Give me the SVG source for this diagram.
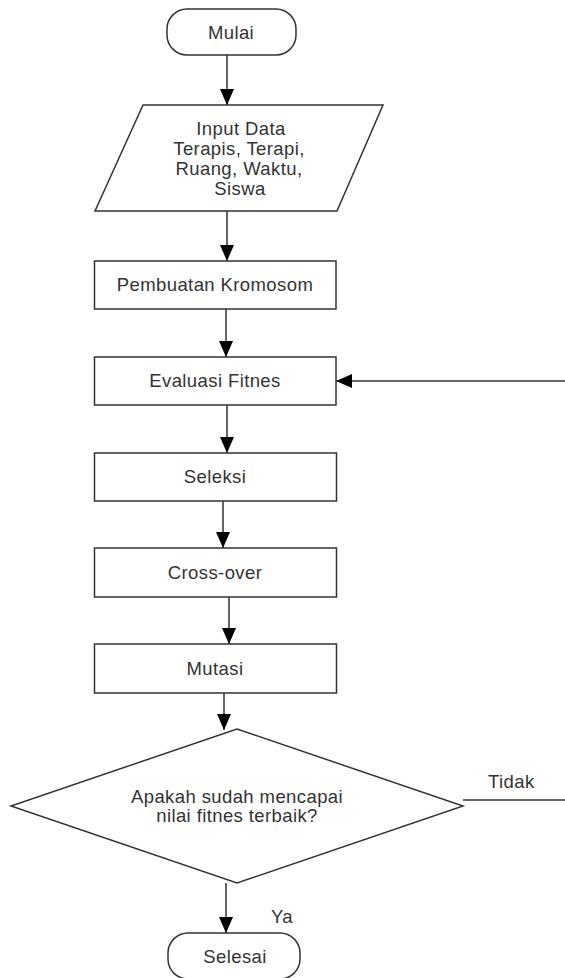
<svg xmlns="http://www.w3.org/2000/svg" width="565" height="978" viewBox="0 0 565 978">
<style>
.s{fill:#fff;stroke:#333;stroke-width:1.5}
.t{font-family:"Liberation Sans",Arial,sans-serif;font-size:18.5px;letter-spacing:0.4px;fill:#333;text-anchor:middle}
.l{font-family:"Liberation Sans",Arial,sans-serif;font-size:18.5px;letter-spacing:0.4px;fill:#333}
.c{fill:none;stroke:#333;stroke-width:1.5}
</style>
<defs>
<marker id="a" markerUnits="userSpaceOnUse" markerWidth="16" markerHeight="16" viewBox="0 0 16 16" refX="16" refY="8" orient="auto">
<path d="M0,1 L16,8 L0,15 Z" fill="#000"/>
</marker>
</defs>
<rect width="565" height="978" fill="#fff"/>
<g id="connectors">
<line class="c" x1="227" y1="55" x2="227" y2="105" marker-end="url(#a)"/>
<line class="c" x1="227" y1="211" x2="227" y2="261" marker-end="url(#a)"/>
<line class="c" x1="226" y1="309" x2="226" y2="357" marker-end="url(#a)"/>
<line class="c" x1="565" y1="381" x2="336" y2="381" marker-end="url(#a)"/>
<line class="c" x1="227" y1="405" x2="227" y2="453" marker-end="url(#a)"/>
<line class="c" x1="223" y1="501" x2="223" y2="548" marker-end="url(#a)"/>
<line class="c" x1="229" y1="597" x2="229" y2="644" marker-end="url(#a)"/>
<line class="c" x1="224" y1="693" x2="224" y2="730" marker-end="url(#a)"/>
<line class="c" x1="463" y1="800" x2="565" y2="800"/>
<line class="c" x1="226" y1="883" x2="226" y2="933" marker-end="url(#a)"/>
<text class="l" x="488" y="788">Tidak</text>
<text class="l" x="271" y="923">Ya</text>
</g>
<g id="mulai">
<rect class="s" x="167" y="9" width="129" height="46" rx="20"/>
<text class="t" x="231" y="39">Mulai</text>
</g>
<g id="input">
<polygon class="s" points="143,105 383,105 337,211 95,211"/>
<text class="t" x="241" y="135">Input Data</text>
<text class="t" x="239" y="155">Terapis, Terapi,</text>
<text class="t" x="239" y="175">Ruang, Waktu,</text>
<text class="t" x="240" y="195">Siswa</text>
</g>
<g id="pembuatan">
<rect class="s" x="94.5" y="261" width="241.5" height="48"/>
<text class="t" x="215" y="291">Pembuatan Kromosom</text>
</g>
<g id="evaluasi">
<rect class="s" x="94.5" y="357" width="241.5" height="48"/>
<text class="t" x="215" y="387">Evaluasi Fitnes</text>
</g>
<g id="seleksi">
<rect class="s" x="94.5" y="453" width="242" height="48"/>
<text class="t" x="215" y="483">Seleksi</text>
</g>
<g id="crossover">
<rect class="s" x="94.5" y="548" width="242" height="49"/>
<text class="t" x="215" y="579">Cross-over</text>
</g>
<g id="mutasi">
<rect class="s" x="94.5" y="644" width="242" height="49"/>
<text class="t" x="215" y="675">Mutasi</text>
</g>
<g id="keputusan">
<polygon class="s" points="237,729 463,806 237,883 11,806"/>
<text class="t" x="237" y="803">Apakah sudah mencapai</text>
<text class="t" x="237" y="822">nilai fitnes terbaik?</text>
</g>
<g id="selesai">
<rect class="s" x="168" y="933" width="132" height="46" rx="20"/>
<text class="t" x="235" y="963">Selesai</text>
</g>
</svg>
